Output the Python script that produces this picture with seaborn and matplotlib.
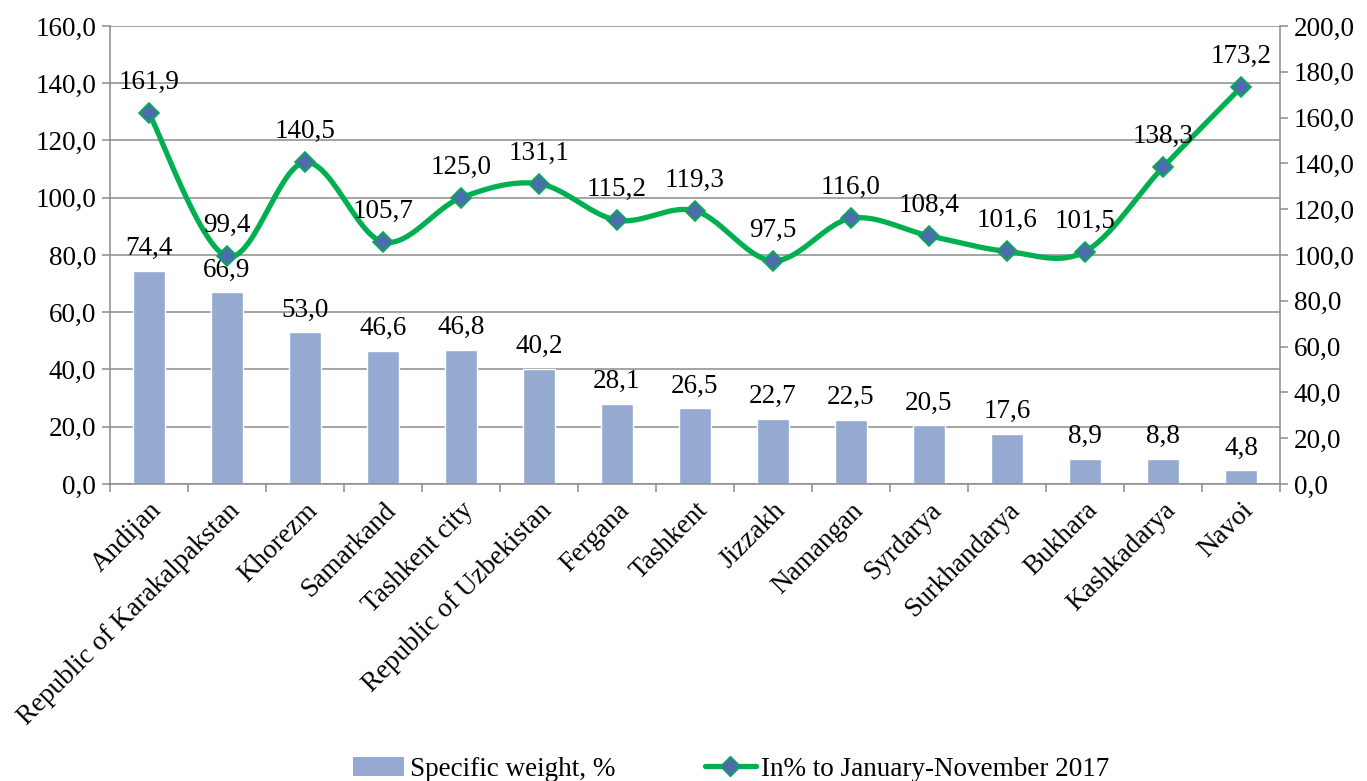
import numpy as np
import pandas as pd
import matplotlib
matplotlib.use("Agg")
import matplotlib.pyplot as plt
import seaborn as sns
from matplotlib.lines import Line2D
from matplotlib.patches import Patch

categories = ["Andijan", "Republic of Karakalpakstan", "Khorezm", "Samarkand",
              "Tashkent city", "Republic of Uzbekistan", "Fergana", "Tashkent",
              "Jizzakh", "Namangan", "Syrdarya", "Surkhandarya", "Bukhara",
              "Kashkadarya", "Navoi"]
specific_weight = [74.4, 66.9, 53.0, 46.6, 46.8, 40.2, 28.1, 26.5, 22.7, 22.5,
                   20.5, 17.6, 8.9, 8.8, 4.8]
growth_pct = [161.9, 99.4, 140.5, 105.7, 125.0, 131.1, 115.2, 119.3, 97.5,
              116.0, 108.4, 101.6, 101.5, 138.3, 173.2]
left_ticks = [0, 20, 40, 60, 80, 100, 120, 140, 160]
right_ticks = [0, 20, 40, 60, 80, 100, 120, 140, 160, 180, 200]
bar_label = "Specific weight, %"
line_label = "In% to January-November 2017"

sns.set_theme(style="white")
plt.rcParams['font.family'] = ['Liberation Serif', 'DejaVu Serif']
plt.rcParams['text.color'] = 'black'
plt.rcParams['xtick.color'] = 'black'
plt.rcParams['ytick.color'] = 'black'

BAR_C = "#95A9D1"
LINE_C = "#00B050"
MARK_C = "#4A6EAA"
GRID_C = "#8C8C8C"
FS = 19.5

fig = plt.figure(figsize=(13.67, 7.81), dpi=100)
ax = fig.add_axes([110/1367, 1-484/781, 1170/1367, 458/781])

df = pd.DataFrame({"cat": categories, "w": specific_weight})
sns.barplot(data=df, x="cat", y="w", color=BAR_C, saturation=1, width=0.4,
            ax=ax, zorder=2)
ax.set_xlim(-0.5, len(categories) - 0.5)
ax.set_ylim(0, 160)
ax.set_yticks(left_ticks)
ax.set_yticklabels([f"{v:.1f}".replace(".", ",") for v in left_ticks], fontsize=FS)
ax.yaxis.grid(True, color=GRID_C, lw=1.1, zorder=0)
ax.set_axisbelow(True)
ax.set_xlabel("")
ax.set_ylabel("")
for s in ["top", "right"]:
    ax.spines[s].set_visible(False)
for s in ["left", "bottom"]:
    ax.spines[s].set_color(GRID_C)
    ax.spines[s].set_linewidth(1.1)
ax.tick_params(axis="y", length=6, color=GRID_C, labelcolor="black", width=1.1,
               pad=4, left=True)
ax.set_xticks(range(len(categories)))
ax.set_xticklabels(categories, fontsize=FS, rotation=45, ha="right",
                   va="top", rotation_mode="anchor")
ax.tick_params(axis="x", which="major", length=0, pad=10, labelcolor="black")
ax.set_xticks(np.arange(-0.5, len(categories), 1.0), minor=True)
ax.tick_params(axis="x", which="minor", length=6, color=GRID_C, width=1.1,
               bottom=True)

for i, v in enumerate(specific_weight):
    ax.annotate(f"{v:.1f}".replace(".", ","), (i, v), xytext=(0, 7),
                textcoords="offset points", ha="center", va="bottom",
                fontsize=FS, color="black")

ax2 = ax.twinx()
ax2.set_ylim(0, 200)
ax2.set_yticks(right_ticks)
ax2.set_yticklabels([f"{v:.1f}".replace(".", ",") for v in right_ticks], fontsize=FS)
for s in ["top", "left", "bottom"]:
    ax2.spines[s].set_visible(False)
ax2.spines["right"].set_color(GRID_C)
ax2.spines["right"].set_linewidth(1.1)
ax2.tick_params(axis="y", length=6, color=GRID_C, labelcolor="black", width=1.1,
                pad=4, right=True)
ax2.grid(False)

# smooth curve (Catmull-Rom through the data points)
xs = np.arange(len(growth_pct), dtype=float)
ys = np.array(growth_pct, dtype=float)
P = np.column_stack([xs, ys])
Pext = np.vstack([P[0], P, P[-1]])
curve = []
for i in range(1, len(Pext) - 2):
    p0, p1, p2, p3 = Pext[i-1], Pext[i], Pext[i+1], Pext[i+2]
    c1 = p1 + (p2 - p0) / 6
    c2 = p2 - (p3 - p1) / 6
    t = np.linspace(0, 1, 30)[:, None]
    seg = ((1-t)**3)*p1 + 3*((1-t)**2)*t*c1 + 3*(1-t)*t**2*c2 + t**3*p2
    curve.append(seg)
curve = np.vstack(curve)
ax2.plot(curve[:, 0], curve[:, 1], color=LINE_C, lw=3.8, zorder=3,
         solid_capstyle="round")
ax2.plot(xs, ys, linestyle="none", marker="D", markersize=10.5,
         markerfacecolor=MARK_C, markeredgecolor=LINE_C, markeredgewidth=1.2,
         zorder=4)
for i, v in enumerate(growth_pct):
    ax2.annotate(f"{v:.1f}".replace(".", ","), (i, v), xytext=(0, 13),
                 textcoords="offset points", ha="center", va="bottom",
                 fontsize=FS, color="black")

handles = [Patch(facecolor=BAR_C, edgecolor="none"),
           Line2D([0], [0], color=LINE_C, lw=3.8, marker="D", markersize=10.5,
                  markerfacecolor=MARK_C, markeredgecolor=LINE_C)]
fig.legend(handles, [bar_label, line_label], loc="center",
           bbox_to_anchor=(0.535, 1-769/781), ncol=2, frameon=False,
           fontsize=FS, handlelength=1.9, handletextpad=0.2, columnspacing=3.3)

fig.savefig("out.png", dpi=100)
